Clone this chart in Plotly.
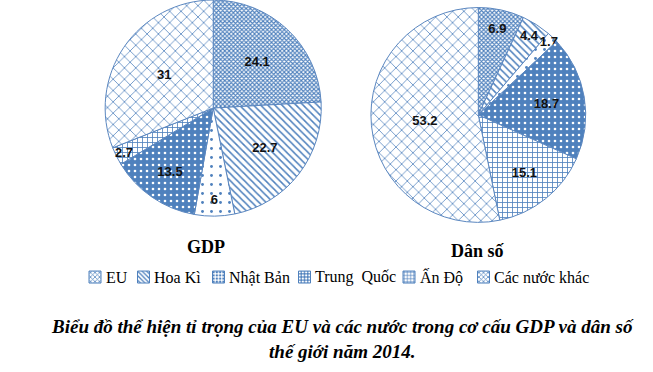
import plotly.graph_objects as go

labels = ["EU", "Hoa Kì", "Nhật Bản", "Trung  Quốc", "Ấn Độ", "Các nước khác"]
gdp_values = [24.1, 22.7, 6, 13.5, 2.7, 31]
pop_values = [6.9, 4.4, 1.7, 18.7, 15.1, 53.2]
chart_titles = ["GDP", "Dân số"]
caption = "Biểu đồ thể hiện tỉ trọng của EU và các nước trong cơ cấu GDP và dân số<br>thế giới năm 2014."

SERIF = "Liberation Serif"
BLUE = "#4f81bd"
pat_shapes = ["x", "\\", ".", ".", "+", "x"]
pat_fg = [BLUE, BLUE, BLUE, "white", BLUE, BLUE]
pat_bg = ["white", "white", "white", BLUE, "white", "white"]
pat_size = [3, 5, 9, 6, 5, 8]
pat_sol = [0.6, 0.3, 0.08, 0.15, 0.3, 0.18]

# legend layout (pixels): symbol-legend left edges and label text starts
W, H = 653, 372
legend_sym_px = [75, 123.5, 198.5, 284.5, 389, 463.5]
legend_txt_px = [104, 152, 227, 313, 418, 492]
LEGEND_Y = 0.255

def make_pie(vals, dom):
    return go.Pie(
        labels=labels, values=vals, sort=False, direction="clockwise", rotation=0,
        domain=dom, showlegend=False,
        texttemplate="<b>%{value}</b>", textposition="inside", insidetextorientation="horizontal",
        textfont=dict(family="Liberation Sans", size=13, color="#111111"),
        marker=dict(
            colors=pat_bg,
            line=dict(color="#5b87c0", width=1),
            pattern=dict(shape=pat_shapes, fgcolor=pat_fg, bgcolor=pat_bg,
                         size=pat_size, solidity=pat_sol, fillmode="replace"),
        ),
        hoverinfo="label+value",
    )

fig = go.Figure()
fig.add_trace(make_pie(gdp_values, dict(x=[0.161, 0.492], y=[0.419, 1.0])))
fig.add_trace(make_pie(pop_values, dict(x=[0.568, 0.897], y=[0.398, 0.984])))

# legend: one symbol-only legend per category, label text beside it
legend_layouts = {}
for i, lab in enumerate(labels):
    lname = "legend" if i == 0 else "legend%d" % (i + 1)
    fig.add_trace(go.Bar(
        x=[None], y=[None], name=" ", legend=lname, showlegend=True, hoverinfo="skip",
        marker=dict(color=pat_bg[i], line=dict(color=BLUE, width=1),
                    pattern=dict(shape=pat_shapes[i], fgcolor=pat_fg[i], bgcolor=pat_bg[i],
                                 size=4, solidity=0.4, fillmode="replace")),
    ))
    legend_layouts[lname] = dict(
        x=legend_sym_px[i] / W, xanchor="left", y=LEGEND_Y, yanchor="middle",
        orientation="h", bgcolor="rgba(0,0,0,0)", borderwidth=0,
        font=dict(family=SERIF, size=16, color="black"), itemwidth=30,
    )
    fig.add_annotation(text=lab, x=legend_txt_px[i] / W, y=LEGEND_Y, xref="paper", yref="paper",
                       xanchor="left", yanchor="middle", showarrow=False,
                       font=dict(family=SERIF, size=16, color="black"))

fig.add_annotation(text="<b>%s</b>" % chart_titles[0], x=206 / W, y=0.335, xref="paper", yref="paper",
                   xanchor="center", yanchor="middle",
                   showarrow=False, font=dict(family=SERIF, size=18, color="black"))
fig.add_annotation(text="<b>%s</b>" % chart_titles[1], x=478 / W, y=0.325, xref="paper", yref="paper",
                   xanchor="center", yanchor="middle",
                   showarrow=False, font=dict(family=SERIF, size=18, color="black"))
fig.add_annotation(text="<b><i>%s</i></b>" % caption, x=0.524, y=0.089, xref="paper", yref="paper",
                   xanchor="center", yanchor="middle",
                   showarrow=False, align="center",
                   font=dict(family=SERIF, size=19, color="black"))

fig.update_layout(
    width=W, height=H,
    margin=dict(l=0, r=0, t=0, b=0),
    paper_bgcolor="white", plot_bgcolor="white",
    uniformtext=dict(minsize=13, mode="show"),
    xaxis=dict(visible=False), yaxis=dict(visible=False),
    **legend_layouts,
)

fig.write_html("out.html", config={"displayModeBar": False},
               post_script="document.body.style.margin='0';")
